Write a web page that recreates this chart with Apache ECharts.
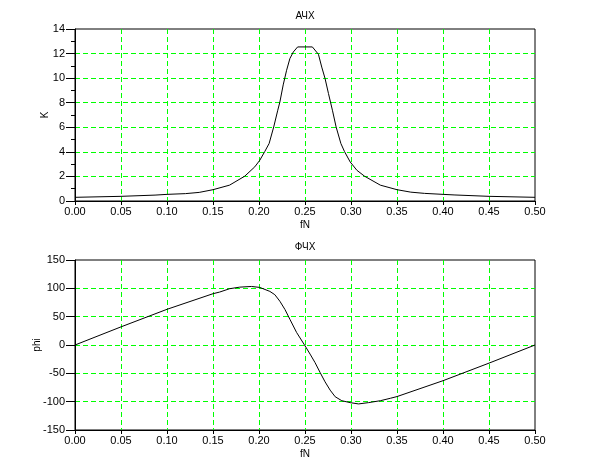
<!DOCTYPE html>
<html>
<head>
<meta charset="utf-8">
<script src="https://cdn.jsdelivr.net/npm/echarts@6/dist/echarts.min.js"></script>
<style>
html,body{margin:0;padding:0;background:#fff;}
#c{width:610px;height:460px;}
</style>
</head>
<body>
<div id="c"></div>
<script>
// Amplitude response (АЧХ)
var fK = [0, 0.05, 0.087, 0.10, 0.12, 0.135, 0.15, 0.168, 0.1845, 0.1954, 0.2009, 0.2063, 0.211, 0.2160, 0.2204, 0.2227, 0.2263, 0.2300, 0.2336, 0.2373, 0.2420, 0.2500, 0.2580, 0.2646, 0.2682, 0.2718, 0.2755, 0.2798, 0.2838, 0.2890, 0.2929, 0.2991, 0.3064, 0.3147, 0.3319, 0.35, 0.365, 0.38, 0.40, 0.413, 0.45, 0.5];
var K  = [0.3, 0.38, 0.48, 0.54, 0.6, 0.7, 0.92, 1.29, 2.02, 2.78, 3.32, 4.03, 4.68, 6.03, 7.39, 8.06, 9.45, 10.64, 11.6, 12.13, 12.54, 12.54, 12.54, 11.94, 10.9, 9.97, 8.75, 7.39, 6.03, 4.68, 4.03, 3.18, 2.5, 2.02, 1.29, 0.92, 0.72, 0.62, 0.54, 0.49, 0.38, 0.3];

// Phase response (ФЧХ)
var fPhi = [0, 0.05, 0.10, 0.15, 0.1572, 0.168, 0.179, 0.1918, 0.2009, 0.2118, 0.2172, 0.2227, 0.2282, 0.2336, 0.2409, 0.2489, 0.2555, 0.2609, 0.2664, 0.2718, 0.2773, 0.2828, 0.290, 0.2991, 0.3082, 0.319, 0.3319, 0.3428, 0.35, 0.40, 0.45, 0.5];
var phi  = [0, 32, 63, 90.5, 93.4, 99.3, 102.1, 103.3, 101.6, 94.6, 88.8, 77.2, 62.7, 45.3, 22, 1.5, -16, -31, -48.5, -65, -79.6, -91.3, -98.3, -101.7, -104, -101.7, -98.3, -94, -91, -63, -32, 0];

var titleTop = 'АЧХ', titleBottom = 'ФЧХ';
var xName = 'fN', yNameTop = 'K', yNameBottom = 'phi';

function pairs(xs, ys){ return xs.map(function(x,i){ return [x, ys[i]]; }); }

var font = 'Liberation Sans, Arial, sans-serif';
var gridLine = {show:true, showMinLine:false, showMaxLine:false, lineStyle:{color:'#00ff00', type:[5,3], width:1}};
function xAxis(gi){
  return {
    type:'value', gridIndex:gi, min:0, max:0.5, interval:0.05,
    name:xName, nameLocation:'middle', nameGap:19, nameMoveOverlap:false,
    nameTextStyle:{color:'#000', fontSize:10, fontFamily:font},
    axisLine:{show:true, onZero:false, lineStyle:{color:'#000', width:1}},
    axisTick:{show:true, inside:false, length:4, lineStyle:{color:'#000'}},
    axisLabel:{color:'#000', fontSize:11, fontFamily:font, margin:5,
      formatter:function(v){ return v.toFixed(2); }},
    splitLine:gridLine
  };
}
function yAxis(gi, mn, mx, iv, nm, gap, minor){
  return {type:'value', gridIndex:gi, min:mn, max:mx, interval:iv,
     name:nm, nameLocation:'middle', nameGap:gap, nameMoveOverlap:false,
     nameTextStyle:{color:'#000', fontSize:10, fontFamily:font},
     axisLine:{show:true, onZero:false, lineStyle:{color:'#000'}},
     axisTick:{show:true, length:9, lineStyle:{color:'#000'}},
     minorTick:{show:minor, splitNumber:2, length:4, lineStyle:{color:'#000'}},
     axisLabel:{color:'#000', fontSize:11, fontFamily:font, margin:10},
     splitLine:gridLine};
}
var chart = echarts.init(document.getElementById('c'), null, {renderer:'canvas'});
chart.setOption({
  animation:false,
  backgroundColor:'#fff',
  title:[
    {text:titleTop, left:'center', top:6, textStyle:{fontSize:10, fontWeight:'normal', color:'#000', fontFamily:font}},
    {text:titleBottom, left:'center', top:237, textStyle:{fontSize:10, fontWeight:'normal', color:'#000', fontFamily:font}}
  ],
  grid:[
    {left:75, right:75, top:29, height:172, show:true, borderColor:'#000', borderWidth:1, backgroundColor:'transparent'},
    {left:75, right:75, top:260, height:171, show:true, borderColor:'#000', borderWidth:1, backgroundColor:'transparent'}
  ],
  xAxis:[xAxis(0), xAxis(1)],
  yAxis:[
    yAxis(0, 0, 14, 2, yNameTop, 25, true),
    yAxis(1, -150, 150, 50, yNameBottom, 33, false)
  ],
  series:[
    {type:'line', xAxisIndex:0, yAxisIndex:0, data:pairs(fK, K), showSymbol:false, symbol:'none',
     lineStyle:{color:'#000', width:1}, smooth:false},
    {type:'line', xAxisIndex:1, yAxisIndex:1, data:pairs(fPhi, phi), showSymbol:false, symbol:'none',
     lineStyle:{color:'#000', width:1}, smooth:false}
  ]
});
</script>
</body>
</html>
